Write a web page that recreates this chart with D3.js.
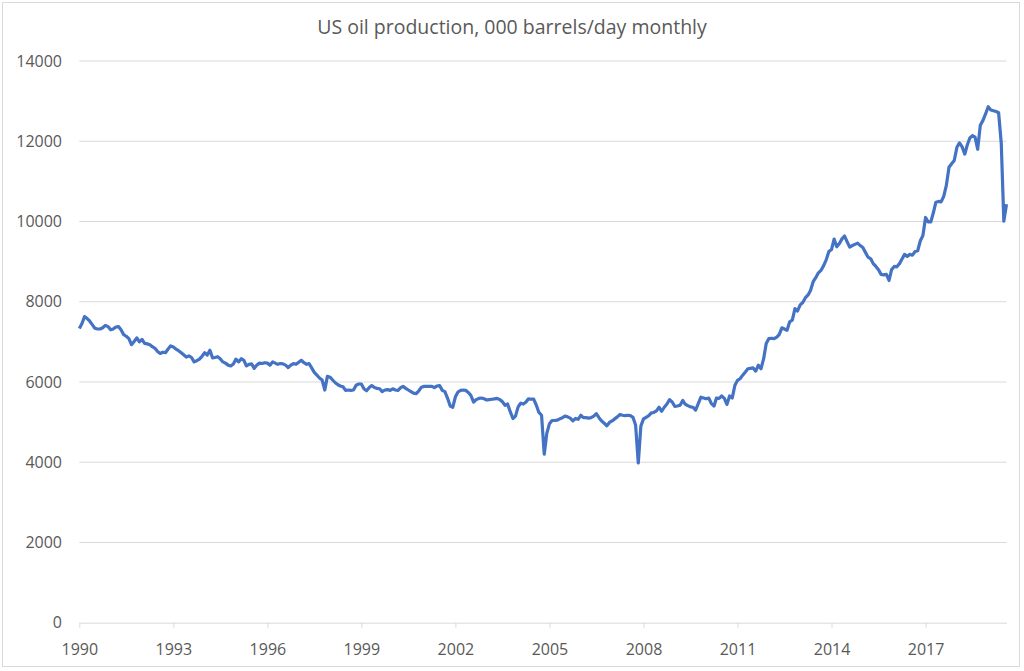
<!DOCTYPE html>
<html>
<head>
<meta charset="utf-8">
<script src="https://cdn.jsdelivr.net/npm/d3@7"></script>
<style>
  body { margin: 0; background: #fff; }
  svg { display: block; font-family: "Open Sans", sans-serif; }
</style>
</head>
<body>
<div id="chart"></div>
<script>
const title = "US oil production, 000 barrels/day monthly"

// first month of the series (the "1990" tick sits on it)
const startMonth = new Date(1990, 10, 1)
const tickYears = [1990, 1993, 1996, 1999, 2002, 2005, 2008, 2011, 2014, 2017]
const yTicks = [0, 2000, 4000, 6000, 8000, 10000, 12000, 14000]

// monthly values, 000 b/d, Nov 1990 - Jun 2020
const production = [
  7330, 7450,
  7630, 7580, 7520, 7430, 7340, 7320, 7320, 7350, 7410, 7380, 7300, 7320,
  7370, 7380, 7300, 7180, 7140, 7080, 6930, 7010, 7100, 7000, 7060, 6960,
  6950, 6930, 6880, 6840, 6760, 6710, 6740, 6730, 6820, 6900, 6870, 6820,
  6780, 6730, 6680, 6620, 6650, 6610, 6500, 6530, 6570, 6640, 6730, 6670,
  6790, 6600, 6610, 6630, 6580, 6500, 6470, 6420, 6400, 6450, 6570, 6500,
  6580, 6540, 6400, 6440, 6450, 6340, 6420, 6470, 6460, 6480, 6470, 6420,
  6500, 6470, 6440, 6460, 6450, 6420, 6360, 6420, 6460, 6440, 6490, 6540,
  6480, 6440, 6460, 6350, 6240, 6170, 6100, 6050, 5800, 6140, 6120, 6050,
  5980, 5930, 5900, 5880, 5790, 5800, 5790, 5800, 5920, 5950, 5950, 5830,
  5780, 5860, 5910, 5860, 5840, 5830, 5760, 5800, 5810, 5790, 5830, 5800,
  5790, 5860, 5890, 5840, 5800, 5760, 5720, 5710, 5780, 5870, 5890, 5890,
  5890, 5890, 5860, 5900, 5910, 5790, 5760, 5600, 5400, 5370, 5630, 5750,
  5790, 5800, 5790, 5740, 5660, 5500, 5560, 5590, 5600, 5580, 5550, 5560,
  5570, 5580, 5590, 5560, 5510, 5420, 5450, 5260, 5090, 5150, 5380, 5470,
  5450, 5500, 5580, 5570, 5570, 5420, 5240, 5170, 4200, 4720, 4960, 5040,
  5040, 5050, 5080, 5110, 5150, 5130, 5100, 5030, 5090, 5070, 5170, 5110,
  5110, 5100, 5110, 5150, 5210, 5110, 5030, 4970, 4910, 4990, 5030, 5080,
  5130, 5190, 5170, 5160, 5170, 5160, 5120, 4920, 3980, 4900, 5080, 5120,
  5160, 5230, 5240, 5280, 5370, 5270, 5370, 5450, 5560, 5500, 5390, 5400,
  5420, 5540, 5450, 5410, 5380, 5370, 5300, 5460, 5620, 5600, 5580, 5600,
  5460, 5400, 5600, 5590, 5650, 5590, 5440, 5650, 5600, 5910, 6040, 6080,
  6170, 6250, 6330, 6340, 6350, 6270, 6420, 6330, 6580, 6960, 7080, 7090,
  7080, 7120, 7180, 7350, 7320, 7290, 7500, 7540, 7830, 7770, 7920, 7980,
  8100, 8170, 8280, 8500, 8600, 8720, 8780, 8900, 9050, 9250, 9300, 9560,
  9370, 9450, 9560, 9640, 9500, 9360, 9400, 9430, 9460, 9400, 9350, 9230,
  9110, 9070, 8950, 8880, 8800, 8680, 8670, 8680, 8530, 8800, 8880, 8870,
  8950, 9070, 9180, 9130, 9180, 9160, 9250, 9270, 9520, 9650, 10100, 9990,
  9990, 10230, 10480, 10500, 10490, 10630, 10900, 11350, 11440, 11520, 11850, 11960,
  11860, 11680, 11900, 12080, 12140, 12100, 11800, 12400, 12520, 12680, 12860, 12780,
  12760, 12740, 12710, 11950, 10010, 10430
]

const width = 1024
const height = 671
const plot = { left: 79.3, right: 1006.5, top: 61, bottom: 622.7 }
const grey = "#d9d9d9"
const textColor = "#595959"

const dates = production.map((d, i) => d3.timeMonth.offset(startMonth, i))

const x = d3.scaleTime()
  .domain(d3.extent(dates))
  .range([plot.left, plot.right])

const y = d3.scaleLinear()
  .domain([0, 14000])
  .range([plot.bottom, plot.top])

const svg = d3.select("#chart")
  .append("svg")
  .attr("width", width)
  .attr("height", height)

svg.append("rect")
  .attr("x", 2.5).attr("y", 2.5)
  .attr("width", 1017).attr("height", 664)
  .attr("fill", "#fff")
  .attr("stroke", grey)

svg.append("text")
  .attr("x", width / 2)
  .attr("y", 34)
  .attr("text-anchor", "middle")
  .attr("font-size", 19.5)
  .attr("fill", textColor)
  .text(title)

// gridlines
svg.append("g")
  .selectAll("line")
  .data(yTicks.slice(1))
  .join("line")
  .attr("x1", plot.left)
  .attr("x2", plot.right)
  .attr("y1", d => y(d))
  .attr("y2", d => y(d))
  .attr("stroke", grey)
  .attr("stroke-width", 1)

// y labels
svg.append("g")
  .selectAll("text")
  .data(yTicks)
  .join("text")
  .attr("x", 62)
  .attr("y", d => y(d))
  .attr("dy", "0.35em")
  .attr("text-anchor", "end")
  .attr("font-size", 16)
  .attr("fill", textColor)
  .text(d => d)

// x axis
const xAxis = svg.append("g")
  .attr("transform", `translate(0,${y(0)})`)
  .call(d3.axisBottom(x)
    .tickValues(tickYears.map(yr => new Date(yr, 10, 1)))
    .tickFormat(d3.timeFormat("%Y"))
    .tickSize(5)
    .tickSizeOuter(0)
    .tickPadding(16))

xAxis.select(".domain").attr("stroke", grey)
xAxis.selectAll(".tick line").attr("stroke", grey)
xAxis.selectAll(".tick text")
  .attr("font-size", 16)
  .attr("font-family", "Open Sans, sans-serif")
  .attr("fill", textColor)

const line = d3.line()
  .x((d, i) => x(dates[i]))
  .y(d => y(d))

svg.append("path")
  .datum(production)
  .attr("d", line)
  .attr("fill", "none")
  .attr("stroke", "#4472C4")
  .attr("stroke-width", 3.2)
  .attr("stroke-linejoin", "round")
</script>
</body>
</html>
